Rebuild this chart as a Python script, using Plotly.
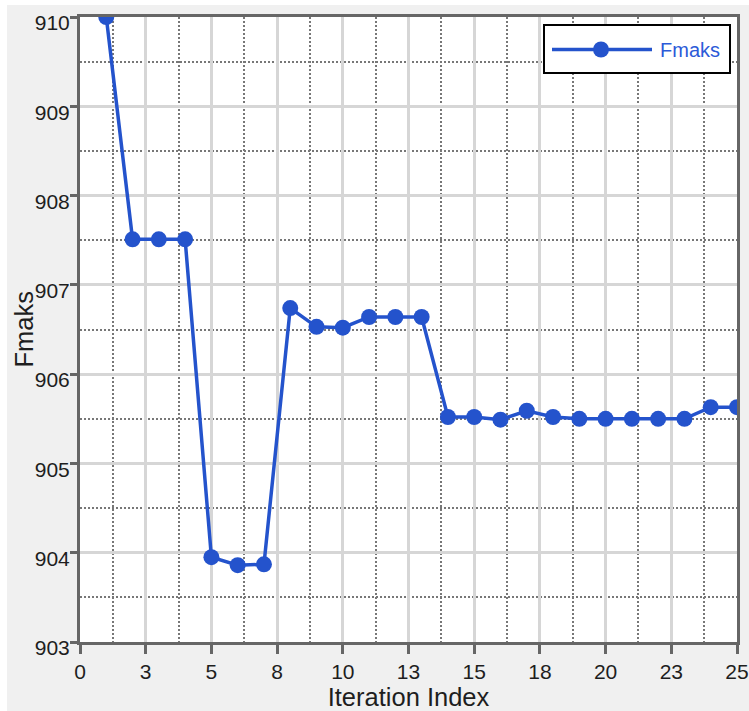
import plotly.graph_objects as go

# Optimisation history of the maximum force
iterations = list(range(1, 26))
fmaks = [910.00, 907.51, 907.51, 907.51, 903.95, 903.86, 903.87, 906.74, 906.53, 906.52,
         906.64, 906.64, 906.64, 905.52, 905.52, 905.49, 905.59, 905.52, 905.50, 905.50,
         905.50, 905.50, 905.50, 905.63, 905.63]

x_tick_vals = [0, 2.5, 5, 7.5, 10, 12.5, 15, 17.5, 20, 22.5, 25]
x_tick_text = ["0", "3", "5", "8", "10", "13", "15", "18", "20", "23", "25"]
x_minor_vals = [1.25, 3.75, 6.25, 8.75, 11.25, 13.75, 16.25, 18.75, 21.25, 23.75]
y_tick_vals = [903, 904, 905, 906, 907, 908, 909, 910]
y_minor_vals = [903.5, 904.5, 905.5, 906.5, 907.5, 908.5, 909.5]

series_name = "Fmaks"
x_title = "Iteration Index"
y_title = "Fmaks"

# ---- layout geometry (pixels) ----
FIG_W, FIG_H = 749, 711
M_L, M_R, M_T, M_B = 80, 12, 17, 69
PW = FIG_W - M_L - M_R
PH = FIG_H - M_T - M_B

def px_x(p):
    return (p - M_L) / PW

def px_y(p):
    return (FIG_H - M_B - p) / PH

FONT = "Liberation Sans, Arial, sans-serif"
TEXT = "#1e1e1e"
LINE_BLUE = "#2453cc"
AXIS_GREY = "#666666"
MAJOR_GRID = "#d6d6d6"
MINOR_GRID = "#777777"

fig = go.Figure()
fig.add_trace(go.Scatter(
    x=iterations, y=fmaks, mode="lines+markers", name=series_name,
    line=dict(color=LINE_BLUE, width=3.5),
    marker=dict(color=LINE_BLUE, size=16, symbol="circle"),
    showlegend=False,
))

fig.update_xaxes(
    range=[0, 25], tickmode="array", tickvals=x_tick_vals, ticktext=x_tick_text,
    showgrid=True, gridcolor=MAJOR_GRID, gridwidth=3, griddash="solid",
    ticks="outside", ticklen=9, tickwidth=3, tickcolor=AXIS_GREY,
    showline=True, linecolor=AXIS_GREY, linewidth=3, mirror=True,
    zeroline=False,
    tickfont=dict(family=FONT, size=21, color=TEXT),
    title=dict(text=x_title, font=dict(family=FONT, size=25.5, color=TEXT), standoff=0),
    minor=dict(tickmode="array", tickvals=x_minor_vals, showgrid=True,
               gridcolor=MINOR_GRID, gridwidth=2, griddash="2px,2px", ticks=""),
)
fig.update_yaxes(
    range=[903, 910], tickmode="array", tickvals=y_tick_vals,
    showgrid=True, gridcolor=MAJOR_GRID, gridwidth=3, griddash="solid",
    ticks="outside", ticklen=7, tickwidth=3, tickcolor=AXIS_GREY,
    showline=True, linecolor=AXIS_GREY, linewidth=3, mirror=True,
    zeroline=False, ticklabelshift=6, ticklabelstandoff=-4,
    tickfont=dict(family=FONT, size=21, color=TEXT),
    minor=dict(tickmode="array", tickvals=y_minor_vals, showgrid=True,
               gridcolor=MINOR_GRID, gridwidth=2, griddash="2px,2px", ticks=""),
)

# legend drawn as a framed key in the upper right corner
shapes = [
    # thin white strips framing the grey panel
    dict(type="rect", xref="paper", yref="paper", x0=px_x(0), x1=px_x(7),
         y0=px_y(FIG_H), y1=px_y(0), fillcolor="white", line_width=0),
    dict(type="rect", xref="paper", yref="paper", x0=px_x(0), x1=px_x(FIG_W),
         y0=px_y(5), y1=px_y(0), fillcolor="white", line_width=0),
    # legend frame
    dict(type="rect", xref="paper", yref="paper", x0=px_x(544), x1=px_x(730),
         y0=px_y(73), y1=px_y(25), fillcolor="white", line=dict(color="black", width=2)),
    # legend line sample
    dict(type="line", xref="paper", yref="paper", x0=px_x(552), x1=px_x(652),
         y0=px_y(49.5), y1=px_y(49.5), line=dict(color=LINE_BLUE, width=3.5)),
    # legend marker sample
    dict(type="circle", xref="paper", yref="paper", xsizemode="pixel", ysizemode="pixel",
         xanchor=px_x(601), yanchor=px_y(49.5), x0=-8, x1=8, y0=-8, y1=8,
         fillcolor=LINE_BLUE, line=dict(color=LINE_BLUE, width=0)),
]

annotations = [
    # y-axis title, set close against the tick labels
    dict(text=y_title, xref="paper", yref="paper", x=px_x(23), y=0.5,
         xanchor="center", yanchor="middle", textangle=-90, showarrow=False,
         font=dict(family=FONT, size=25.5, color=TEXT)),
    # legend label
    dict(text=series_name, xref="paper", yref="paper",
         x=px_x(658), y=px_y(49.5), xanchor="left", yanchor="middle",
         showarrow=False, font=dict(family=FONT, size=20, color="#2c5ad8")),
]

fig.update_layout(
    width=FIG_W, height=FIG_H,
    margin=dict(l=M_L, r=M_R, t=M_T, b=M_B, autoexpand=False),
    paper_bgcolor="#f0f0f0", plot_bgcolor="white",
    showlegend=False,
    shapes=shapes,
    annotations=annotations,
)

fig.write_html("out.html")
